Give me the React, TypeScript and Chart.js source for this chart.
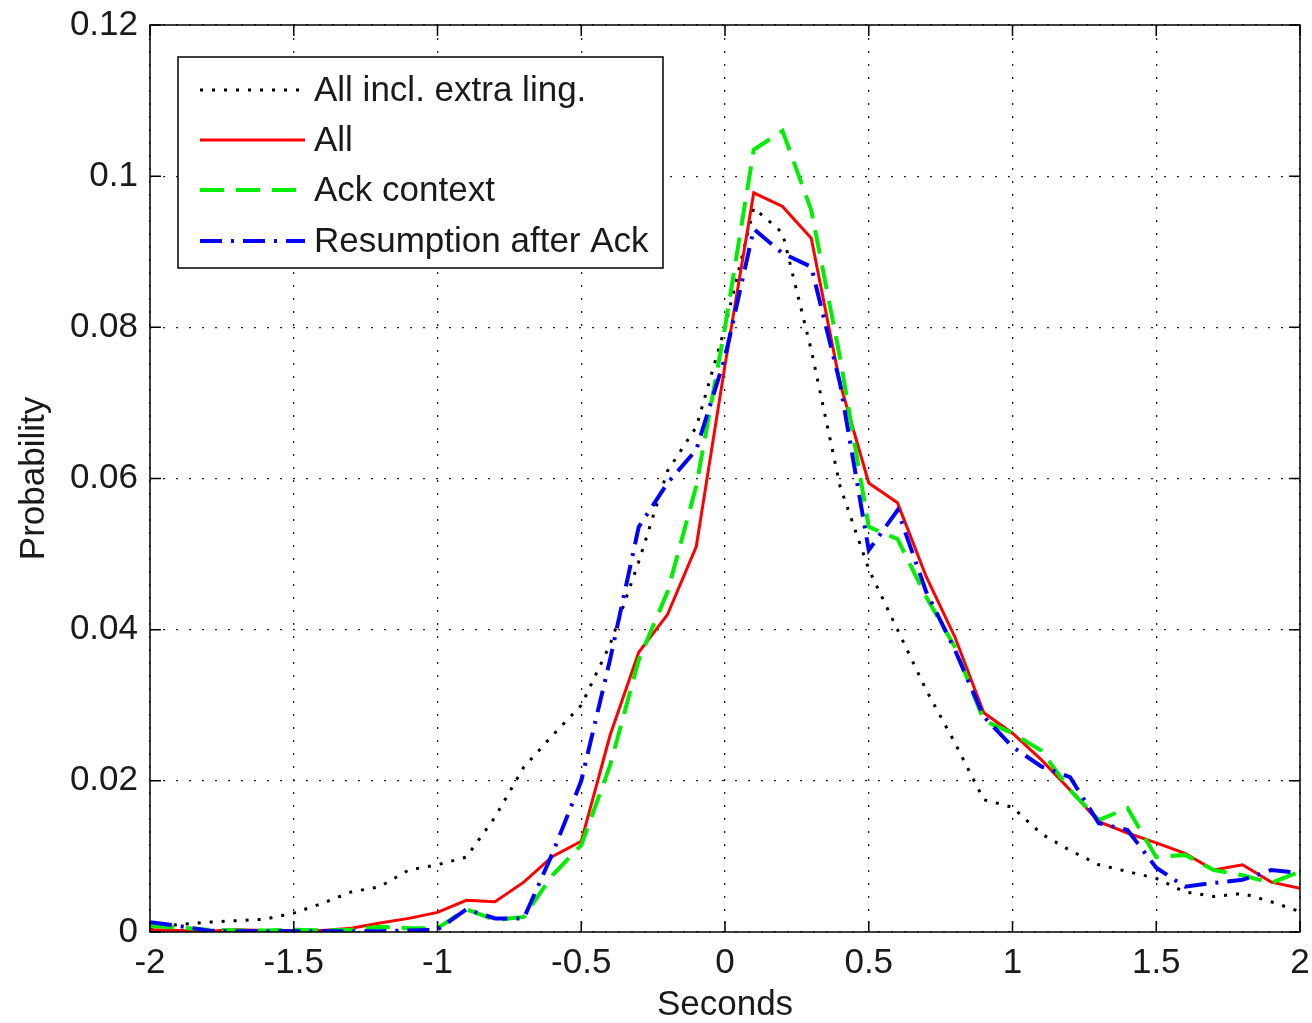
import React, { useEffect, useRef } from "react";
import { Chart, registerables } from "chart.js";

Chart.register(...registerables);

const xValues = [
  -2, -1.9, -1.8, -1.7, -1.6, -1.5, -1.4, -1.3, -1.2, -1.1, -1.0,
  -0.9, -0.8, -0.7, -0.6, -0.5, -0.4, -0.3, -0.2, -0.1, 0,
  0.1, 0.2, 0.3, 0.4, 0.5, 0.6, 0.7, 0.8, 0.9, 1.0,
  1.1, 1.2, 1.3, 1.4, 1.5, 1.6, 1.7, 1.8, 1.9, 2.0,
];

const allExtraLing = [
  0.0005, 0.001, 0.0013, 0.0015, 0.0017, 0.0025, 0.0038, 0.0053, 0.006, 0.0082, 0.0089,
  0.0099, 0.0152, 0.0218, 0.026, 0.03, 0.038, 0.049, 0.061, 0.0668, 0.08,
  0.0958, 0.0925, 0.077, 0.059, 0.048, 0.04, 0.032, 0.025, 0.0175, 0.0165,
  0.013, 0.0108, 0.0089, 0.008, 0.0071, 0.0053, 0.0047, 0.0051, 0.004, 0.0027,
];

const allValues = [
  0.0003, 0.0002, 0.0001, 0.0003, 0.0002, 0.0002, 0.0002, 0.0005, 0.0012, 0.0018, 0.0026,
  0.0042, 0.004, 0.0066, 0.01, 0.012, 0.026, 0.037, 0.042, 0.051, 0.075,
  0.0978, 0.096, 0.0918, 0.0726, 0.0594, 0.0568, 0.047, 0.039, 0.029, 0.0263,
  0.0228, 0.0188, 0.0146, 0.0131, 0.0118, 0.0104, 0.0082, 0.0089, 0.0066, 0.0058,
];

const ackContext = [
  0.0008, 0.0006, 0.0003, 0.0002, 0.0002, 0.0003, 0.0002, 0.0003, 0.0007, 0.0005, 0.0005,
  0.003, 0.0016, 0.002, 0.0075, 0.0115, 0.022, 0.036, 0.045, 0.059, 0.08,
  0.1035, 0.106, 0.0955, 0.076, 0.0536, 0.052, 0.0443, 0.0377, 0.028, 0.0263,
  0.024, 0.0188, 0.0148, 0.0164, 0.0099, 0.0102, 0.0082, 0.0075, 0.0065, 0.008,
];

const resumptionAfterAck = [
  0.0013, 0.0008, 0.0002, 0.0001, 0.0001, 0.0001, 0.0001, 0.0001, 0.0001, 0.0002, 0.0003,
  0.003, 0.0018, 0.0018, 0.0104, 0.02, 0.036, 0.0536, 0.0594, 0.0638, 0.076,
  0.093, 0.0898, 0.088, 0.0726, 0.0505, 0.0558, 0.045, 0.0373, 0.0285, 0.0245,
  0.0219, 0.0205, 0.0144, 0.0135, 0.0085, 0.006, 0.0065, 0.0069, 0.0082, 0.0078,
];

const legendLabels = ["All incl. extra ling.", "All", "Ack context", "Resumption after Ack"];
const xAxisTitle = "Seconds";
const yAxisTitle = "Probability";

function pickFont() {
  const c = document.createElement("canvas").getContext("2d");
  if (!c) return { family: '"Liberation Sans", Arial, sans-serif', size: 35 };
  const s = "Probability Seconds 0.12";
  c.font = '40px "NoSuchFontXYZ"';
  const missing = c.measureText(s).width;
  c.font = '40px "Liberation Sans Narrow"';
  const narrow = c.measureText(s).width;
  if (Math.abs(narrow - missing) > 1) {
    return { family: '"Liberation Sans Narrow", "Liberation Sans", Arial, sans-serif', size: 41 };
  }
  return { family: '"Liberation Sans", Arial, sans-serif', size: 35 };
}

const styles = [
  { color: "#000000", width: 3, dash: [3, 9] },
  { color: "#ff0000", width: 3, dash: [] as number[] },
  { color: "#00ee00", width: 4, dash: [24, 12] },
  { color: "#0000ff", width: 4, dash: [22, 9, 3, 9] },
];

const fmt = (v: any) => String(+Number(v).toFixed(2));

export default function App() {
  const ref = useRef<HTMLCanvasElement | null>(null);

  useEffect(() => {
    if (!ref.current) return;
    const font = pickFont();
    const textColor = "#1a1a1a";
    const series = [allExtraLing, allValues, ackContext, resumptionAfterAck];

    const frame = {
      id: "matlabFrame",
      afterDraw(chart: any) {
        const { ctx, chartArea } = chart;
        const { left, right, top, bottom } = chartArea;
        const xs = chart.scales.x;
        const ys = chart.scales.y;
        ctx.save();
        ctx.strokeStyle = "#000";
        ctx.lineWidth = 1.5;
        ctx.setLineDash([]);
        ctx.strokeRect(left, top, right - left, bottom - top);
        const tl = 11;
        ctx.beginPath();
        xs.ticks.forEach((t: any) => {
          const px = xs.getPixelForValue(t.value);
          ctx.moveTo(px, bottom);
          ctx.lineTo(px, bottom - tl);
          ctx.moveTo(px, top);
          ctx.lineTo(px, top + tl);
        });
        ys.ticks.forEach((t: any) => {
          const py = ys.getPixelForValue(t.value);
          ctx.moveTo(left, py);
          ctx.lineTo(left + tl, py);
          ctx.moveTo(right, py);
          ctx.lineTo(right - tl, py);
        });
        ctx.stroke();

        // legend
        const lx = 178, ly = 57, lw = 485, lh = 211;
        ctx.fillStyle = "#ffffff";
        ctx.fillRect(lx, ly, lw, lh);
        ctx.strokeStyle = "#000";
        ctx.lineWidth = 1.5;
        ctx.strokeRect(lx, ly, lw, lh);
        const rows = [90, 140, 190, 241];
        legendLabels.forEach((lab, i) => {
          const st = styles[i];
          ctx.strokeStyle = st.color;
          ctx.lineWidth = st.width;
          ctx.setLineDash(st.dash);
          ctx.beginPath();
          ctx.moveTo(200, rows[i]);
          ctx.lineTo(305, rows[i]);
          ctx.stroke();
          ctx.setLineDash([]);
          ctx.fillStyle = textColor;
          ctx.font = `${font.size}px ${font.family}`;
          ctx.textBaseline = "middle";
          ctx.textAlign = "left";
          ctx.fillText(lab, 314, rows[i] + 1);
        });
        ctx.restore();
      },
    };

    const chart = new Chart(ref.current, {
      type: "line",
      data: {
        datasets: series.map((vals, i) => ({
          label: legendLabels[i],
          data: xValues.map((x, j) => ({ x, y: vals[j] })),
          borderColor: styles[i].color,
          borderWidth: styles[i].width,
          borderDash: styles[i].dash,
          pointRadius: 0,
          tension: 0,
          fill: false,
          order: 4 - i,
        })),
      },
      options: {
        responsive: false,
        animation: false,
        layout: { padding: { top: 25, right: 12, left: 0, bottom: 0 } },
        plugins: { legend: { display: false }, tooltip: { enabled: false } },
        scales: {
          x: {
            type: "linear",
            min: -2,
            max: 2,
            ticks: {
              stepSize: 0.5,
              color: textColor,
              padding: 10,
              font: { family: font.family, size: font.size },
              maxRotation: 0,
              autoSkip: false,
              callback: fmt,
            },
            grid: {
              color: "#222",
              lineWidth: 1.3,
              drawTicks: false,
              tickLength: 0,
            },
            border: { display: false, dash: [2, 11] },
            title: {
              display: true,
              text: xAxisTitle,
              color: textColor,
              font: { family: font.family, size: font.size, lineHeight: 1 },
              padding: { top: 0, bottom: 0 },
            },
            afterFit(scale: any) {
              scale.height = 91;
              scale.paddingLeft = 0;
              scale.paddingRight = 0;
            },
          },
          y: {
            type: "linear",
            min: 0,
            max: 0.12,
            ticks: {
              stepSize: 0.02,
              color: textColor,
              padding: 12,
              font: { family: font.family, size: font.size },
              callback: fmt,
            },
            grid: {
              color: "#222",
              lineWidth: 1.3,
              drawTicks: false,
              tickLength: 0,
            },
            border: { display: false, dash: [2, 11] },
            title: {
              display: true,
              text: yAxisTitle,
              color: textColor,
              font: { family: font.family, size: font.size, lineHeight: 1 },
              padding: { top: 17, bottom: 0 },
            },
            afterFit(scale: any) {
              scale.width = 150;
              scale.paddingTop = 0;
              scale.paddingBottom = 0;
            },
          },
        },
      },
      plugins: [frame],
    } as any);

    return () => chart.destroy();
  }, []);

  return (
    <div style={{ position: "absolute", left: 0, top: 0, width: 1312, height: 1023, background: "#fff" }}>
      <canvas ref={ref} width={1312} height={1023} style={{ display: "block" }} />
    </div>
  );
}
